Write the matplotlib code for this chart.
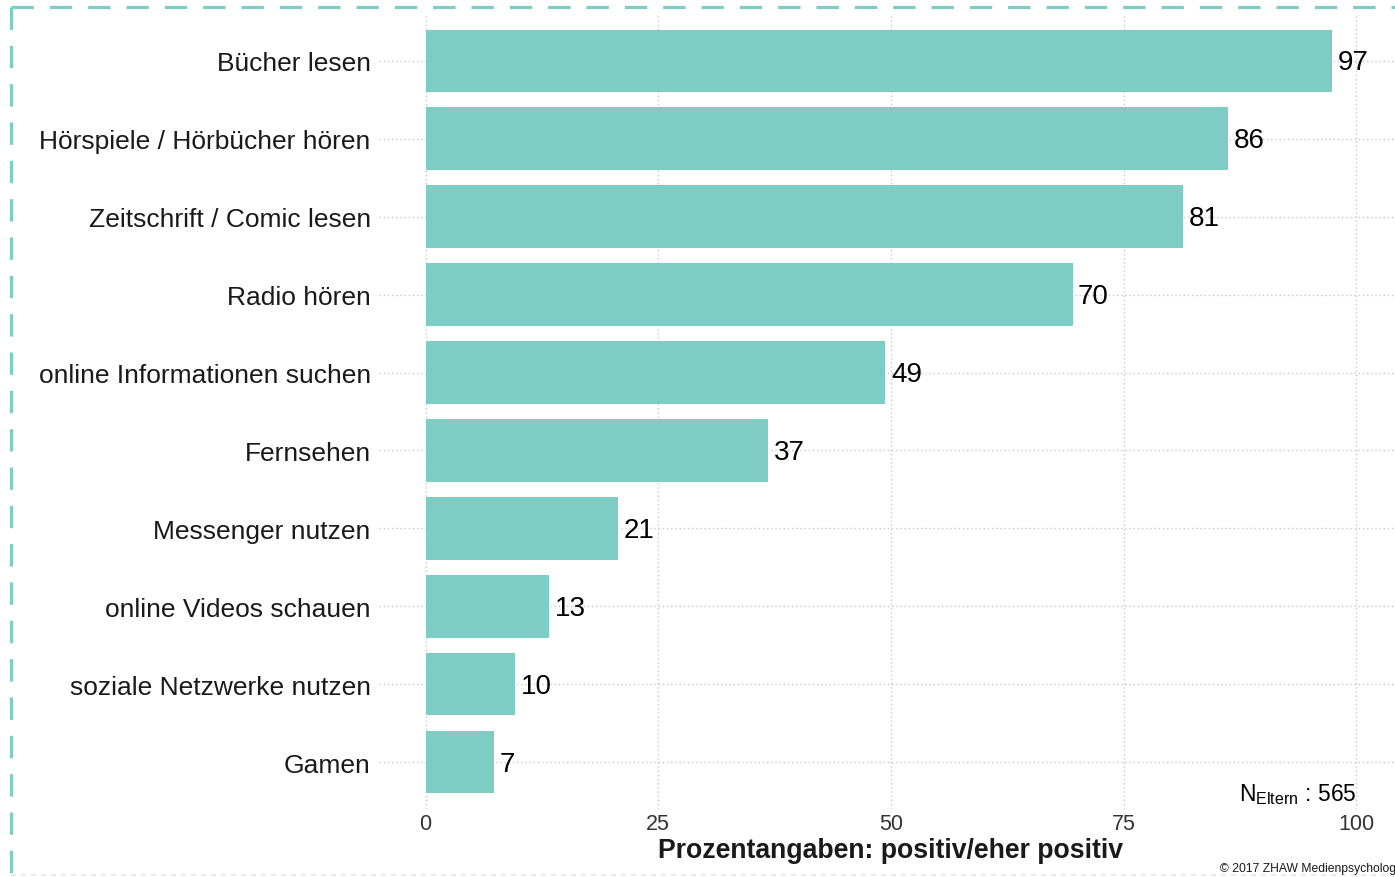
import matplotlib
matplotlib.use("Agg")
import matplotlib.pyplot as plt
from matplotlib.lines import Line2D

plt.rcParams['font.family'] = ['Liberation Sans', 'DejaVu Sans']
plt.rcParams['mathtext.fontset'] = 'custom'
plt.rcParams['mathtext.rm'] = 'Liberation Sans'
plt.rcParams['mathtext.it'] = 'Liberation Sans'

categories = ["Bücher lesen", "Hörspiele / Hörbücher hören", "Zeitschrift / Comic lesen",
              "Radio hören", "online Informationen suchen", "Fernsehen", "Messenger nutzen",
              "online Videos schauen", "soziale Netzwerke nutzen", "Gamen"]
values = [97.4, 86.2, 81.4, 69.5, 49.4, 36.8, 20.7, 13.3, 9.6, 7.4]
labels = ["97", "86", "81", "70", "49", "37", "21", "13", "10", "7"]
xticks = [0, 25, 50, 75, 100]
bar_color = "#7ECDC4"

fig = plt.figure(figsize=(13.95, 8.78), dpi=100)
ax = fig.add_axes([0.2717, 0.0774, 0.7340, 0.9056])

pos = list(range(len(categories)))
ax.barh(pos, values, height=0.8, color=bar_color, zorder=2)
for p, v, l in zip(pos, values, labels):
    ax.annotate(l, (v, p), xytext=(4, -1), textcoords="offset points",
                ha="left", va="center", fontsize=20, color="black", zorder=3)

ax.set_xlim(-5, 105)
ax.set_ylim(len(categories) - 0.4, -0.6)
ax.set_yticks(pos)
ax.set_yticklabels(categories, fontsize=19, color="#1a1a1a")
ax.set_xticks(xticks)
ax.set_xticklabels([str(t) for t in xticks], fontsize=15.5, color="#333333")
ax.tick_params(axis="both", length=0)
ax.tick_params(axis="y", pad=6)
ax.tick_params(axis="x", pad=3)
ax.grid(True, linestyle=(0, (1, 2)), color="#c8c8c8", linewidth=1.0, zorder=0)
ax.set_axisbelow(True)
for s in ax.spines.values():
    s.set_visible(False)
ax.set_xlabel("Prozentangaben: positiv/eher positiv", fontsize=19.2, fontweight="bold",
              color="#1a1a1a", labelpad=2)

ax.text(100, 9.4, r"N$_{\mathrm{Eltern}}$ : 565", ha="right", va="center",
        fontsize=16.5, color="black")

fig.text(0.8746, 0.0103, "© 2017 ZHAW Medienpsychologie", ha="left", va="center",
         fontsize=8.7, color="#1a1a1a")

# dashed frame
fig.add_artist(Line2D([11/1395, 1.0], [1 - 8/878, 1 - 8/878], transform=fig.transFigure,
                      color=bar_color, linewidth=2.3, linestyle=(0, (7, 5))))
fig.add_artist(Line2D([11/1395, 11/1395], [1 - 8/878, 0.0], transform=fig.transFigure,
                      color=bar_color, linewidth=2.3, linestyle=(0, (7, 5))))
fig.add_artist(Line2D([11/1395, 1.0], [2/878, 2/878], transform=fig.transFigure,
                      color="#e6e6e6", linewidth=1.2, linestyle=(0, (3, 3))))

fig.savefig("out.png", dpi=100)
